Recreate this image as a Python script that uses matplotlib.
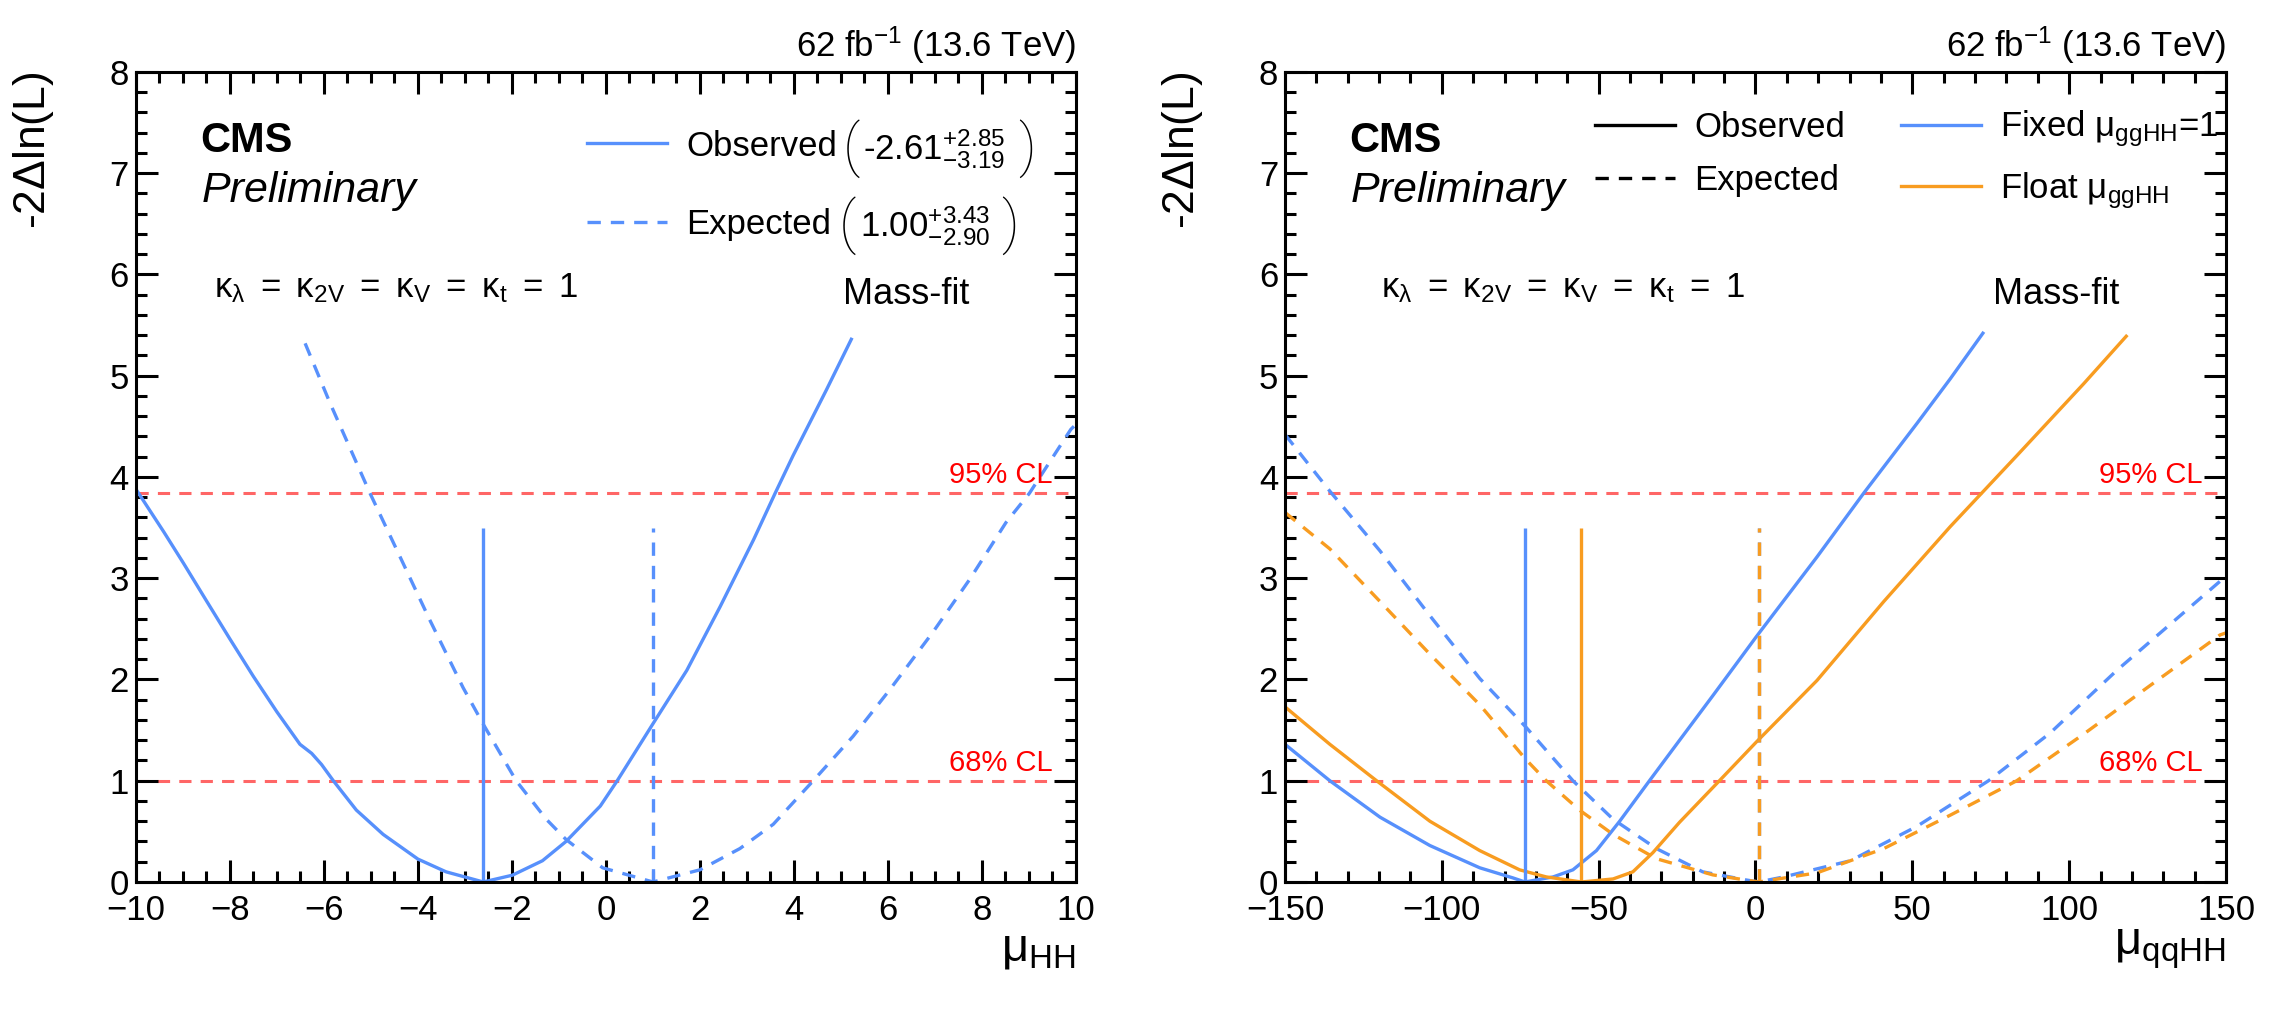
import numpy as np
import matplotlib
matplotlib.use("Agg")
import matplotlib.pyplot as plt
from matplotlib.ticker import MultipleLocator

plt.rcParams['font.family'] = ['Liberation Sans', 'DejaVu Sans']
plt.rcParams['mathtext.fontset'] = 'custom'
plt.rcParams['mathtext.rm'] = 'Liberation Sans'
plt.rcParams['mathtext.it'] = 'Liberation Sans:italic'
plt.rcParams['mathtext.bf'] = 'Liberation Sans:bold'

BLUE = '#5790fc'
ORANGE = '#f89c20'

# ---- left panel: mu_HH scan
obs_x = [-10, -9.41, -8.99, -8.49, -8.0, -7.5, -7.0, -6.51, -6.26, -6.05, -5.80, -5.31, -4.74,
         -4.0, -3.40, -2.61, -1.99, -1.35, -0.85, -0.12, 0.24, 1.01, 1.72, 2.43, 3.14, 3.60,
         3.98, 4.69, 5.22]
obs_y = [3.88, 3.46, 3.15, 2.77, 2.40, 2.03, 1.68, 1.36, 1.27, 1.16, 1.0, 0.71, 0.47,
         0.226, 0.10, 0.0, 0.067, 0.21, 0.40, 0.75, 1.0, 1.57, 2.09, 2.72, 3.38, 3.84,
         4.21, 4.86, 5.36]
exp_x = [-6.40, -5.87, -5.02, -4.46, -3.75, -3.04, -2.60, -1.91, -1.27, -0.85, -0.07, 1.0,
         2.0, 2.85, 3.56, 4.41, 5.26, 6.04, 6.96, 7.74, 8.51, 9.01, 9.89, 10.0]
exp_y = [5.32, 4.73, 3.84, 3.29, 2.59, 1.92, 1.55, 1.0, 0.62, 0.42, 0.14, 0.0,
         0.12, 0.33, 0.57, 1.0, 1.44, 1.90, 2.47, 2.99, 3.55, 3.84, 4.47, 4.52]
best_obs = -2.61
best_exp = 1.00
obs_err = ('+2.85', '-3.19')
exp_err = ('+3.43', '-2.90')

# ---- right panel: mu_qqHH scan
fix_obs_x = [-150, -135.7, -119.7, -103.8, -87.9, -77.3, -73.5, -64.5, -58.2, -50.7, -43.3,
             -33.8, -24.2, -13.6, 0.2, 19.6, 34.5, 51.5, 62.1, 72.5]
fix_obs_y = [1.36, 1.0, 0.64, 0.36, 0.14, 0.04, 0.0, 0.05, 0.12, 0.31, 0.60,
             1.0, 1.40, 1.84, 2.42, 3.21, 3.84, 4.53, 4.97, 5.42]
flt_obs_x = [-150, -135.7, -120.8, -103.8, -87.9, -75.2, -66.7, -55.5, -45.4, -39.1, -32.7,
             -24.2, -11.5, 0.2, 19.6, 40.9, 62.1, 72.7, 83.3, 104.6, 118.2]
flt_obs_y = [1.73, 1.36, 1.0, 0.60, 0.31, 0.12, 0.05, 0.0, 0.03, 0.10, 0.29,
             0.59, 1.0, 1.38, 1.99, 2.77, 3.51, 3.86, 4.21, 4.92, 5.39]
fix_exp_x = [-150, -135.7, -119.7, -103.8, -87.9, -73.2, -58.2, -45.4, -31.6, -16.8, -3.0,
             1.0, 9.0, 30.3, 51.5, 74.3, 93.9, 115.2, 148.1, 150]
fix_exp_y = [4.42, 3.86, 3.27, 2.63, 2.01, 1.53, 1.0, 0.62, 0.33, 0.10, 0.02,
             0.0, 0.05, 0.21, 0.55, 1.0, 1.47, 2.09, 2.97, 3.02]
flt_exp_x = [-150, -135.7, -119.7, -103.8, -87.9, -73.2, -66.7, -56.1, -45.4, -31.6, -13.6,
             1.0, 19.6, 40.9, 62.1, 83.3, 104.6, 125.8, 148.1, 150]
flt_exp_y = [3.65, 3.29, 2.77, 2.25, 1.75, 1.21, 1.0, 0.71, 0.47, 0.23, 0.07,
             0.0, 0.09, 0.33, 0.66, 1.0, 1.46, 1.94, 2.44, 2.46]
best_fix_obs = -73.5
best_flt_obs = -55.5
best_fix_exp = 1.0
best_flt_exp = 1.0

cl_vals = [1.0, 3.84]
cl_labels = ['68% CL', '95% CL']
kappa_txt = r'$\mathregular{\kappa_{\lambda}\ =\ \kappa_{2V}\ =\ \kappa_{V}\ =\ \kappa_{t}\ =\ 1}$'

fig = plt.figure(figsize=(22.84, 10.14), dpi=100)
axL = fig.add_axes([0.0595, 0.1302, 0.4116, 0.7988])
axR = fig.add_axes([0.5626, 0.1302, 0.4120, 0.7988])


def style_axes(ax, xlim, xmaj, xmin, xlabel):
    ax.set_xlim(*xlim)
    ax.set_ylim(0, 8)
    ax.xaxis.set_major_locator(MultipleLocator(xmaj))
    ax.xaxis.set_minor_locator(MultipleLocator(xmin))
    ax.yaxis.set_major_locator(MultipleLocator(1))
    ax.yaxis.set_minor_locator(MultipleLocator(0.2))
    ax.tick_params(which='both', direction='in', top=True, right=True, width=2.2)
    ax.tick_params(which='major', length=16, labelsize=25)
    ax.tick_params(which='minor', length=8)
    ax.tick_params(axis='x', pad=9)
    ax.tick_params(axis='y', pad=5)
    for s in ax.spines.values():
        s.set_linewidth(2.2)
    ax.set_ylabel(r'-2$\mathregular{\Delta}$ln(L)', fontsize=32, loc='top')
    ax.yaxis.set_label_coords(-0.085, 1.0)
    ax.set_xlabel(xlabel, fontsize=34, loc='right')
    ax.xaxis.set_label_coords(1.0, -0.056)
    # CL lines
    for v, lab in zip(cl_vals, cl_labels):
        ax.axhline(v, color='red', alpha=0.6, lw=2.2, ls=(0, (4, 3)), zorder=1)
        ax.text(0.975, v + 0.04, lab, color='red', fontsize=21, ha='right', va='bottom',
                transform=ax.get_yaxis_transform())
    ax.text(0.068, 0.901, 'CMS', fontsize=30, fontweight='bold', transform=ax.transAxes)
    ax.text(0.070, 0.840, 'Preliminary', fontsize=31, style='italic', transform=ax.transAxes)
    ax.text(1.0, 1.008, r'62 fb$^{\mathregular{-1}}$ (13.6 TeV)', fontsize=25, ha='right',
            va='bottom', transform=ax.transAxes)
    ax.text(0.752, 0.714, 'Mass-fit', fontsize=26, transform=ax.transAxes)


style_axes(axL, (-10, 10), 2, 0.5, r'$\mathregular{\mu_{HH}}$')
style_axes(axR, (-150, 150), 50, 10, r'$\mathregular{\mu_{qqHH}}$')

axL.text(0.083, 0.722, kappa_txt, fontsize=25, transform=axL.transAxes)
axR.text(0.102, 0.722, kappa_txt, fontsize=25, transform=axR.transAxes)

# left panel curves
axL.plot(obs_x, obs_y, color=BLUE, lw=2.4, label='Observed')
axL.plot(exp_x, exp_y, color=BLUE, lw=2.4, ls=(0, (4, 3)), label='Expected')
axL.vlines(best_obs, 0, 3.5, color=BLUE, lw=2.4)
axL.vlines(best_exp, 0, 3.5, color=BLUE, lw=2.4, ls=(0, (4, 3)))
axL.legend(loc='upper left', bbox_to_anchor=(0.465, 0.946), frameon=False, fontsize=25,
           handlelength=2.3, handletextpad=0.55, labelspacing=1.31, borderaxespad=0)

# best-fit values with uncertainties next to the legend entries, in large brackets
for (best, err, yrow, xl, xn, xr) in [(best_obs, obs_err, 0.905, 0.752, 0.773, 0.938),
                                      (best_exp, exp_err, 0.810, 0.748, 0.770, 0.920)]:
    axL.text(xl, yrow, '(', fontsize=42, fontfamily='Roboto', fontweight='light',
             ha='left', va='center', transform=axL.transAxes)
    axL.text(xr, yrow, ')', fontsize=42, fontfamily='Roboto', fontweight='light',
             ha='left', va='center', transform=axL.transAxes)
    axL.text(xn, yrow, r'%.2f$\mathregular{^{%s}_{%s}}$' % (best, err[0], err[1]),
             fontsize=25, ha='left', va='center', transform=axL.transAxes)

# right panel curves
axR.plot(fix_obs_x, fix_obs_y, color=BLUE, lw=2.4)
axR.plot(fix_exp_x, fix_exp_y, color=BLUE, lw=2.4, ls=(0, (4, 3)))
axR.plot(flt_obs_x, flt_obs_y, color=ORANGE, lw=2.4)
axR.plot(flt_exp_x, flt_exp_y, color=ORANGE, lw=2.4, ls=(0, (4, 3)))
axR.vlines(best_fix_obs, 0, 3.5, color=BLUE, lw=2.4)
axR.vlines(best_fix_exp, 0, 3.5, color=BLUE, lw=2.4, ls=(0, (4, 3)))
axR.vlines(best_flt_obs, 0, 3.5, color=ORANGE, lw=2.4)
axR.vlines(best_flt_exp, 0, 3.5, color=ORANGE, lw=2.4, ls=(0, (4, 3)))

hObs, = axR.plot([], [], color='black', lw=2.4)
hExp, = axR.plot([], [], color='black', lw=2.4, ls=(0, (4, 3)))
hFix, = axR.plot([], [], color=BLUE, lw=2.4)
hFlt, = axR.plot([], [], color=ORANGE, lw=2.4)
axR.legend([hObs, hExp, hFix, hFlt],
           ['Observed', 'Expected', r'Fixed $\mathregular{\mu_{ggHH}}$=1',
            r'Float $\mathregular{\mu_{ggHH}}$'],
           ncol=2, loc='upper left', bbox_to_anchor=(0.315, 0.972), frameon=False,
           fontsize=25, handlelength=2.3, handletextpad=0.55, labelspacing=0.6,
           columnspacing=1.6, borderaxespad=0)

fig.savefig('out.png', dpi=100)
